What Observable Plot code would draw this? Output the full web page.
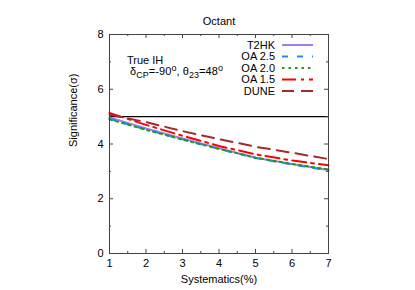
<!DOCTYPE html>
<html><head><meta charset="utf-8">
<script src="https://cdn.jsdelivr.net/npm/d3@7"></script>
<script src="https://cdn.jsdelivr.net/npm/@observablehq/plot@0.6"></script>
<style>
body{margin:0;background:#fff}
svg{font-family:"Liberation Sans",Arial,sans-serif}
</style>
</head><body><div id="chart"></div>
<script>
// ---- data ----
const systematics = [1, 2, 3, 4, 5, 6, 7];
const t2hk  = [4.97, 4.57, 4.20, 3.85, 3.50, 3.27, 3.05];
const oa25  = [4.92, 4.53, 4.17, 3.82, 3.49, 3.25, 3.03];
const oa20  = [4.90, 4.52, 4.16, 3.82, 3.50, 3.27, 3.07];
const oa15  = [5.13, 4.70, 4.30, 3.93, 3.62, 3.40, 3.22];
const dune  = [5.07, 4.80, 4.47, 4.18, 3.90, 3.68, 3.45];
const seriesNames = ["T2HK", "OA 2.5", "OA 2.0", "OA 1.5", "DUNE"];
const seriesValues = [t2hk, oa25, oa20, oa15, dune];
const xTicks = [1, 2, 3, 4, 5, 6, 7];
const xMinor = [1.5, 2.5, 3.5, 4.5, 5.5, 6.5];
const yTicks = [0, 2, 4, 6, 8];
const yMinor = [1, 3, 5, 7];
const threshold = [5];

// ---- styles ----
const colors = ["#a57cf0", "#1e8cff", "#1f9a1f", "#ff0000", "#a52a2a"];
const dashes = [null, "6,9", "2.5,4", "14,5,3,5", "12,7"];

const data = seriesNames.flatMap((name, k) =>
  systematics.map((x, i) => ({name, x, y: seriesValues[k][i]})));

const W = 415, H = 290, mL = 109, mR = 87, mT = 34, mB = 37;
const pw = W - mL - mR, ph = H - mT - mB;
const axisColor = "#444";

const svg = Plot.plot({
  width: W, height: H,
  marginLeft: mL, marginRight: mR, marginTop: mT, marginBottom: mB,
  style: {fontFamily: '"Liberation Sans", Arial, sans-serif', fontSize: "11px", background: "#fff", color: "#000"},
  x: {domain: [1, 7], label: null},
  y: {domain: [0, 8], label: null},
  marks: [
    Plot.ruleY(threshold, {stroke: "#000", strokeWidth: 1.3}),
    ...seriesNames.map((name, k) => Plot.line(data.filter(d => d.name === name), {
      x: "x", y: "y", stroke: colors[k], strokeWidth: 2,
      strokeDasharray: dashes[k] ?? undefined
    })),
    Plot.frame({stroke: axisColor, strokeWidth: 1}),
    // inward ticks, mirrored
    Plot.tickX(xTicks, {x: d => d, insetTop: ph - 4, stroke: axisColor}),
    Plot.tickX(xTicks, {x: d => d, insetBottom: ph - 4, stroke: axisColor}),
    Plot.tickX(xMinor, {x: d => d, insetTop: ph - 2, stroke: axisColor}),
    Plot.tickX(xMinor, {x: d => d, insetBottom: ph - 2, stroke: axisColor}),
    Plot.tickY(yTicks, {y: d => d, insetRight: pw - 4, stroke: axisColor}),
    Plot.tickY(yTicks, {y: d => d, insetLeft: pw - 4, stroke: axisColor}),
    Plot.tickY(yMinor, {y: d => d, insetRight: pw - 2, stroke: axisColor}),
    Plot.tickY(yMinor, {y: d => d, insetLeft: pw - 2, stroke: axisColor}),
    Plot.axisX(xTicks, {tickSize: 0, tickPadding: 6, fontSize: 11, tickFormat: d => d, label: null}),
    Plot.axisY(yTicks, {tickSize: 0, tickPadding: 6, fontSize: 11, tickFormat: d => d, label: null}),
    Plot.text(["Octant"], {frameAnchor: "top", dy: -17, fontSize: 11}),
    Plot.text(["Systematics(%)"], {frameAnchor: "bottom", dy: 29, fontSize: 11}),
    Plot.text(["Significance(σ)"], {frameAnchor: "left", dx: -36, dy: 3, rotate: -90, fontSize: 11})
  ]
});

// ---- legend (top right, inside frame) ----
const g = d3.select(svg).append("g").attr("font-size", 11);
const legY0 = 45, legStep = 11.5, legTextX = 275, legX1 = 282, legX2 = 313;
seriesNames.forEach((name, k) => {
  const y = legY0 + k * legStep;
  g.append("text").attr("x", legTextX).attr("y", y).attr("dy", "0.35em")
    .attr("text-anchor", "end").text(name);
  const l = g.append("line").attr("x1", legX1).attr("x2", legX2).attr("y1", y).attr("y2", y)
    .attr("stroke", colors[k]).attr("stroke-width", 2);
  if (dashes[k]) l.attr("stroke-dasharray", dashes[k]);
});

// ---- annotation ----
const a = d3.select(svg).append("g").attr("font-size", 11).attr("text-anchor", "start");
a.append("text").attr("x", 127).attr("y", 63.5).text("True IH");
const t = a.append("text").attr("x", 130).attr("y", 74.5)
  .attr("textLength", 93).attr("lengthAdjust", "spacing");
t.append("tspan").text("δ");
t.append("tspan").attr("font-size", 9).attr("dy", 3).text("CP");
t.append("tspan").attr("dy", -3).text("=-90");
t.append("tspan").attr("font-size", 9).attr("dy", -4).text("o");
t.append("tspan").attr("dy", 4).text(", θ");
t.append("tspan").attr("font-size", 9).attr("dy", 3).text("23");
t.append("tspan").attr("dy", -3).text("=48");
t.append("tspan").attr("font-size", 9).attr("dy", -4).text("o");

document.getElementById("chart").appendChild(svg);
</script>
</body></html>
